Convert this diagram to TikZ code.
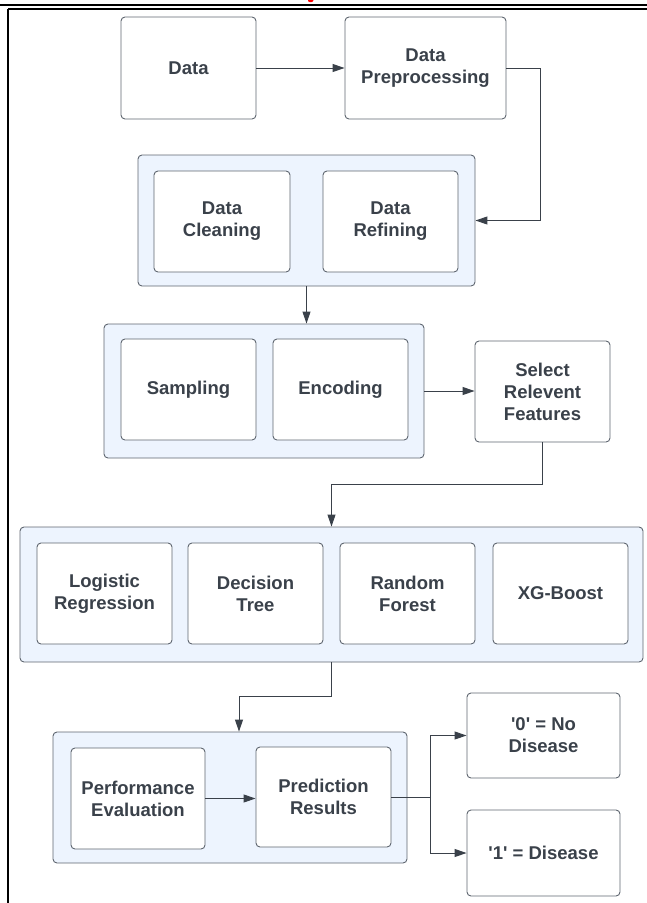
\documentclass[tikz,border=0pt]{standalone}
\usepackage{fontspec}
\setmainfont{Liberation Sans}[Ligatures=TeXOff]
\usetikzlibrary{arrows.meta,calc}
\definecolor{boxline}{HTML}{5F6670}
\definecolor{arrowc}{HTML}{3A414A}
\definecolor{txt}{HTML}{3A414A}
\definecolor{bluefill}{HTML}{EDF4FE}
\begin{document}
\begin{tikzpicture}[x=1pt,y=-1pt,
  inbox/.style={draw=boxline, fill=white, rounded corners=4pt, line width=0.9pt,
    align=center, text=txt, inner sep=0pt,
    font=\fontsize{18.5}{22}\selectfont\bfseries},
  outerbox/.style={draw=boxline, fill=bluefill, rounded corners=4pt, line width=0.9pt, inner sep=0pt},
  arr/.style={draw=arrowc, line width=1pt, -{Triangle[length=12pt,width=8pt]}},
  conn/.style={draw=arrowc, line width=1pt}]
\useasboundingbox (0,0) rectangle (647,903);
% page frame
\draw[line width=2pt] (0,5) -- (647,5);
\draw[line width=1.3pt] (8,9) -- (647,9);
\draw[line width=2pt] (8,9) -- (8,903);
% clipped red fragment of a header above the page
\fill[red] (308,0) -- (313.5,0) .. controls (313.5,2.6) and (309,2.8) .. (308,1) -- cycle;
% row 1
\node[inbox, minimum width=135pt, minimum height=102pt] (data) at (188.5,68) {Data};
\node[inbox, minimum width=161pt, minimum height=102pt] (prep) at (425.5,68) {Data\\Preprocessing};
% row 2
\node[outerbox, minimum width=337pt, minimum height=131pt] (outer1) at (306.5,220.5) {};
\node[inbox, minimum width=136pt, minimum height=101pt] (clean) at (222,221.5) {Data\\Cleaning};
\node[inbox, minimum width=135pt, minimum height=101pt] (refine) at (390.5,221.5) {Data\\Refining};
% row 3
\node[outerbox, minimum width=320pt, minimum height=134pt] (outer2) at (264,391) {};
\node[inbox, minimum width=135pt, minimum height=101pt] (sampling) at (188.5,389.5) {Sampling};
\node[inbox, minimum width=135pt, minimum height=101pt] (encoding) at (340.5,389.5) {Encoding};
\node[inbox, minimum width=135pt, minimum height=101pt] (select) at (542.5,391.5) {Select\\Relevent\\Features};
% row 4
\node[outerbox, minimum width=623pt, minimum height=135pt] (outer3) at (331.5,594.5) {};
\node[inbox, minimum width=135pt, minimum height=101pt] (lr) at (104.5,593.5) {Logistic\\Regression};
\node[inbox, minimum width=135pt, minimum height=101pt] (dt) at (255.5,593.5) {Decision\\Tree};
\node[inbox, minimum width=135pt, minimum height=101pt] (rf) at (407.5,593.5) {Random\\Forest};
\node[inbox, minimum width=135pt, minimum height=101pt] (xg) at (560.5,593.5) {XG-Boost};
% row 5
\node[outerbox, minimum width=354pt, minimum height=131pt] (outer4) at (230,797.5) {};
\node[inbox, minimum width=134pt, minimum height=101pt] (pe) at (138,798.5) {Performance\\Evaluation};
\node[inbox, minimum width=135pt, minimum height=100pt] (pr) at (323.5,797) {Prediction\\Results};
\node[inbox, minimum width=153pt, minimum height=85pt] (no) at (543.5,735.5) {'0' = No\\Disease};
\node[inbox, minimum width=153pt, minimum height=86pt] (yes) at (543.5,853) {'1' = Disease};
% connectors
\draw[arr] (data.east) -- (prep.west);
\coordinate (c1) at (540,220.5);
\draw[arr] (prep.east) -| (c1) -- (outer1.east);
\draw[arr] (outer1.south) -- (outer1.south |- outer2.north);
\draw[arr] (outer2.east) -- (select.west |- outer2.east);
\coordinate (c2) at (331.5,484);
\draw[arr] (select.south) |- (c2) -- (outer3.north);
\coordinate (c3) at (239,696);
\draw[arr] (outer3.south) |- (c3) -- (c3 |- outer4.north);
\draw[arr] (pe.east) -- (pe.east -| pr.west);
\coordinate (split) at (430,797);
\draw[conn] (pr.east) -- (split);
\draw[arr] (split) |- (no.west);
\draw[arr] (split) |- (yes.west);
\end{tikzpicture}
\end{document}
